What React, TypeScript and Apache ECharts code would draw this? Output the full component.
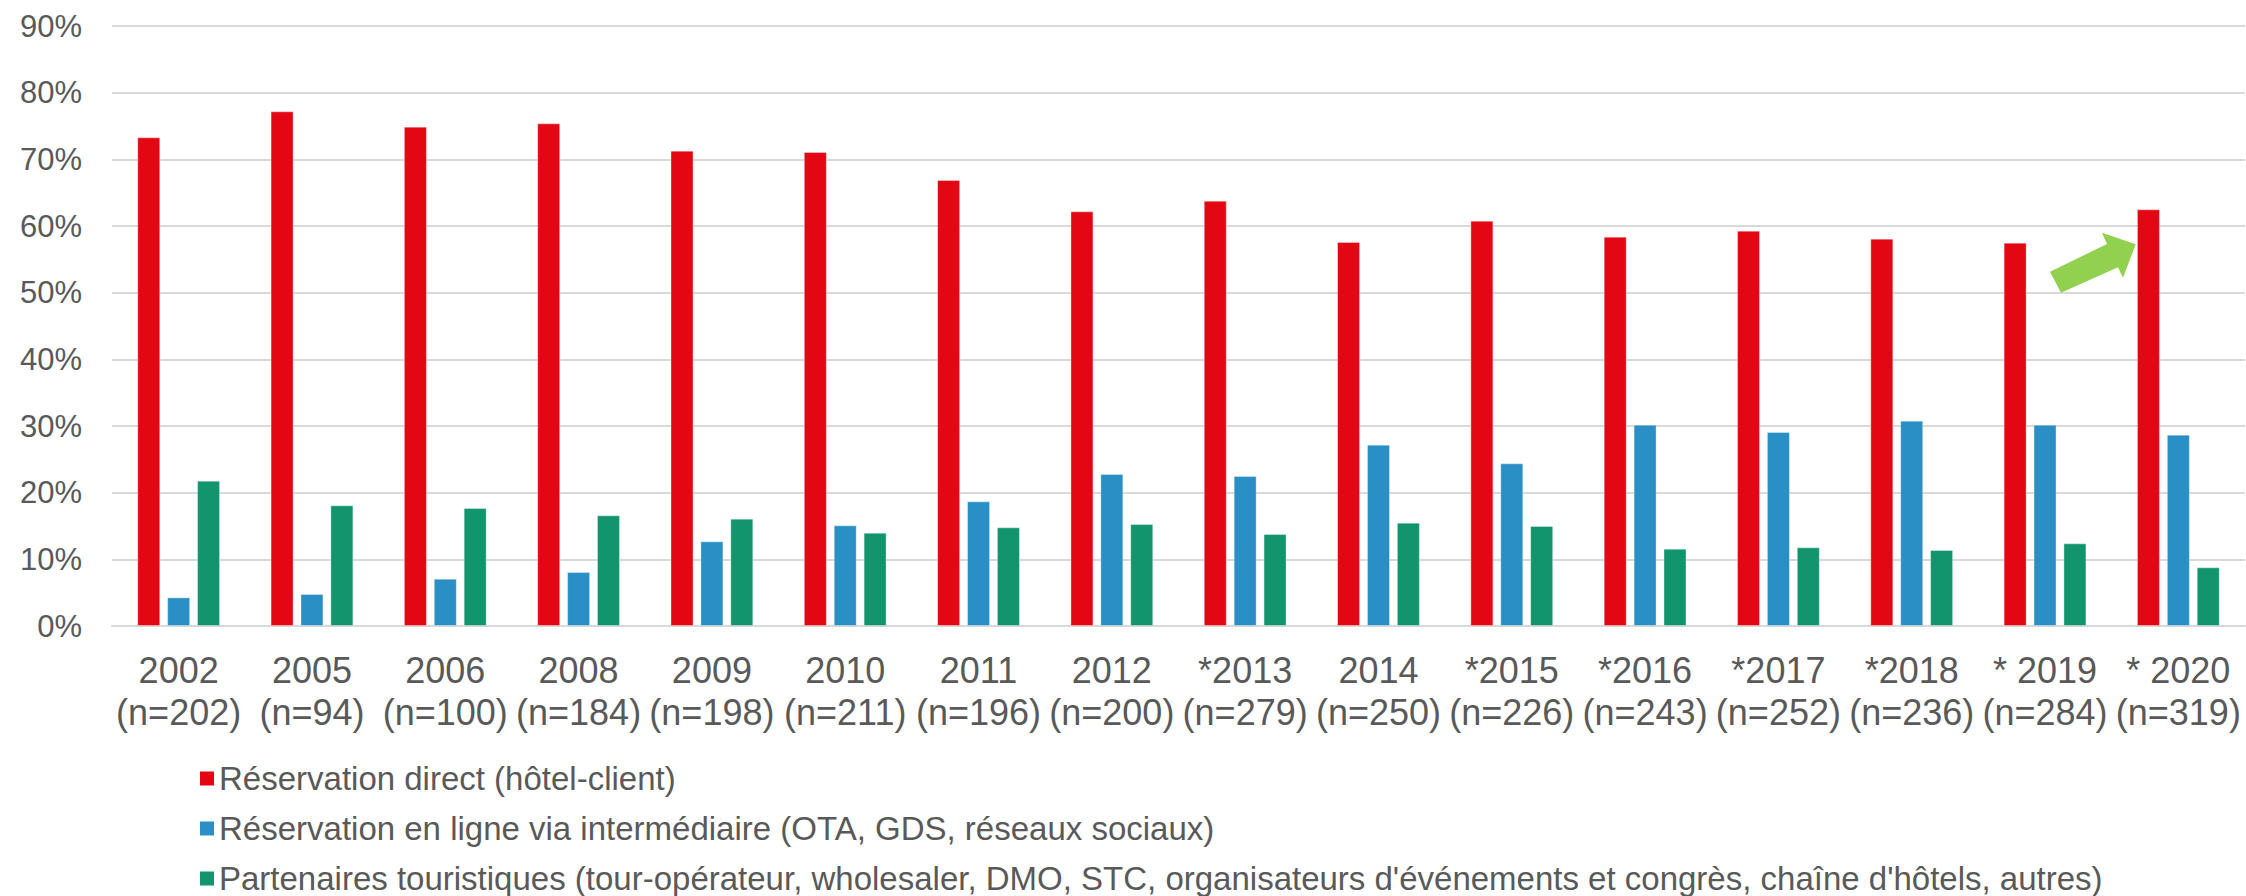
import React, { useEffect, useRef } from "react";
import * as echarts from "echarts";

const years = ["2002", "2005", "2006", "2008", "2009", "2010", "2011", "2012", "*2013", "2014", "*2015", "*2016", "*2017", "*2018", "* 2019", "* 2020"];
const sampleSizes = [202, 94, 100, 184, 198, 211, 196, 200, 279, 250, 226, 243, 252, 236, 284, 319];
const directValues = [73.3, 77.2, 74.9, 75.4, 71.3, 71.1, 66.9, 62.2, 63.8, 57.6, 60.8, 58.4, 59.3, 58.1, 57.5, 62.5];
const onlineValues = [4.3, 4.8, 7.1, 8.1, 12.7, 15.1, 18.7, 22.8, 22.5, 27.2, 24.4, 30.2, 29.1, 30.8, 30.2, 28.7];
const partnerValues = [21.8, 18.1, 17.7, 16.6, 16.1, 14.0, 14.8, 15.3, 13.8, 15.5, 15.0, 11.6, 11.8, 11.4, 12.4, 8.8];
const yTicks = [0, 10, 20, 30, 40, 50, 60, 70, 80, 90];
const seriesNames = [
  "Réservation direct (hôtel-client)",
  "Réservation en ligne via intermédiaire (OTA, GDS, réseaux sociaux)",
  "Partenaires touristiques (tour-opérateur, wholesaler, DMO, STC, organisateurs d'événements et congrès, chaîne d'hôtels, autres)",
];
const colors = ["#E30613", "#2A8FC4", "#12956C"];

const FONT = "'Liberation Sans', Arial, sans-serif";
const TEXT = "#595959";

export default function App() {
  const ref = useRef<HTMLDivElement>(null);
  useEffect(() => {
    if (!ref.current) return;
    const chart = echarts.init(ref.current, undefined, { renderer: "svg" });
    const categories = years.map((y, i) => `${y}\n(n=${sampleSizes[i]})`);
    const mk = (name: string, data: number[], color: string) => ({
      name,
      type: "bar",
      data,
      barWidth: 23,
      barGap: "30%",
      itemStyle: { color, borderColor: "rgba(255,255,255,0.35)", borderWidth: 1 },
    });
    const legendTops = [762, 812, 862];
    chart.setOption({
      animation: false,
      backgroundColor: "#ffffff",
      textStyle: { fontFamily: FONT },
      grid: { left: 112, right: 1, top: 26, bottom: 270, containLabel: false },
      xAxis: {
        type: "category",
        data: categories,
        axisTick: { show: false },
        axisLine: { lineStyle: { color: "#D9D9D9", width: 2 } },
        axisLabel: {
          color: TEXT,
          fontSize: 36,
          lineHeight: 42,
          margin: 23,
          interval: 0,
          fontFamily: FONT,
        },
      },
      yAxis: {
        type: "value",
        min: 0,
        max: yTicks[yTicks.length - 1],
        interval: 10,
        axisLine: { show: false },
        axisTick: { show: false },
        splitLine: { lineStyle: { color: "#D9D9D9", width: 2 } },
        axisLabel: {
          color: TEXT,
          fontSize: 31,
          margin: 30,
          fontFamily: FONT,
          formatter: (v: number) => `${v}%`,
        },
      },
      legend: seriesNames.map((name, i) => ({
        orient: "horizontal",
        left: 200,
        top: legendTops[i],
        padding: 0,
        itemWidth: 14,
        itemHeight: 14,
        icon: "rect",
        itemStyle: { borderWidth: 0 },
        textStyle: { color: TEXT, fontSize: 33, lineHeight: 33, fontFamily: FONT },
        data: [name],
      })),
      series: [
        mk(seriesNames[0], directValues, colors[0]),
        mk(seriesNames[1], onlineValues, colors[1]),
        mk(seriesNames[2], partnerValues, colors[2]),
      ],
      graphic: [
        {
          type: "polygon",
          shape: {
            points: [
              [2050, 271.7],
              [2107, 244],
              [2102, 232.7],
              [2135.7, 244.3],
              [2123, 277.7],
              [2118, 267.3],
              [2061, 292.7],
            ],
          },
          style: { fill: "#92D050" },
          z: 100,
        },
      ],
    });
    return () => chart.dispose();
  }, []);
  return (
    <div
      ref={ref}
      style={{ position: "absolute", left: 0, top: 0, width: 2246, height: 896 }}
    />
  );
}
